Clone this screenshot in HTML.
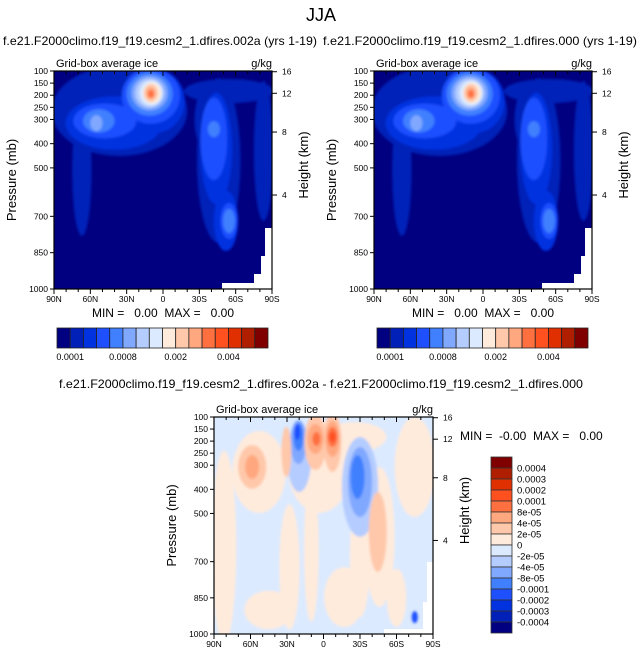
<!DOCTYPE html>
<html><head><meta charset="utf-8">
<style>
html,body{margin:0;padding:0;background:#fff;}
svg{display:block;font-family:"Liberation Sans",Arial,sans-serif;}
text{white-space:pre;}
</style></head>
<body>
<svg id="fig" width="643" height="658" viewBox="0 0 643 658" xmlns="http://www.w3.org/2000/svg">
<defs>
<filter id="bl" x="-30%" y="-30%" width="160%" height="160%"><feGaussianBlur stdDeviation="1.3"/></filter>
</defs>
<text x="321" y="21" font-size="18" text-anchor="middle">JJA</text>
</svg>
<script>
// ---- data ----
const colors = ['#000080','#0020b8','#0032e0','#1e50ff','#4080ff','#80a8ff','#b4ccff','#dceaff','#ffebdc','#ffc8aa','#ffa880','#ff7040','#ff5020','#e03000','#b01e00','#800000'];
const absLabels = ['0.0001','0.0008','0.002','0.004'];
const absLabelIdx = [1,5,9,13];
const diffLabels = ['0.0004','0.0003','0.0002','0.0001','8e-05','4e-05','2e-05','0','-2e-05','-4e-05','-8e-05','-0.0001','-0.0002','-0.0003','-0.0004'];
const pTicks = [100,150,200,250,300,400,500,700,850,1000];
const hTicks = [16,12,8,4];
const hTickP = [103,192,352,612];
const latTicks = [90,60,30,0,-30,-60,-90];
const latLabels = ['90N','60N','30N','0','30S','60S','90S'];
// blobs: [lat, pressure, latRadius, pRadius, colorLevel]
const ctlBlobs = [
 [36,265,56,186,1],[67,513,8,268,1],[-54.5,183,37,50,1],[-46,470,18,340,1],[-83,430,8,289,1],[-40,300,14,150,1],
 [40.5,315,40,110,2],[7,224,25,132,2],[-44,420,13,230,2],[-52,719,10,124,2],
 [48,306,26,72,3],[10,203,24,115,3],[-42,380,11,170,3],[-54.5,719,7,74,3],
 [53,306,13,48,4],[11,195,19,90,4],[-42,340,5,33,4],[-54.5,719,5,50,4],
 [55,315,5,33,5],[11,191,15,72,5],
 [11,191,12,60,6],
 [10,191,9.5,52,7],
 [9,191,7.5,43,8],
 [10,191,5.8,37,9],
 [10,191,4,25,10],
 [10,195,2.5,16,11]
];
const diffBlobs = [
 [81.7,639,10,400,8],[53,328,22,170,8],[3.3,307,26,190,8],[28,722,8.3,260,8],[10,650,6,300,8],
 [-25.6,183,26,62,8],[-46,598,12.4,290,8],[-75,307,16.5,207,8],[-17,847,16.5,124,8],[-30,681,8.3,249,8],
 [45,900,20,80,8],[-60,850,8,120,8],
 [20,266,9.9,145,6],[-30,390,14.9,207,6],
 [20.6,204,6.6,91,5],[-30,370,9.9,145,5],
 [20.6,183,4.1,58,4],[-28,349,5.8,91,4],
 [21.5,162,2.5,33,3],[-75,930,2.5,25,3],
 [58.6,307,11.6,91,9],[30.5,245,4.1,104,9],[6.6,204,9.1,116,9],[-7.4,204,7.4,124,9],[-44.6,577,7.4,166,9],
 [58.6,307,5.8,50,10],[6.6,191,6.6,62,10],[-7.4,191,5.8,75,10],
 [5.8,191,3.3,29,11],[-7.4,183,4.1,41,11],
 [-7.4,183,2.5,21,12]
];
// ---- drawing ----
const NS='http://www.w3.org/2000/svg';
const svg=document.getElementById('fig');
function mk(tag,attrs,parent){const e=document.createElementNS(NS,tag);for(const k in attrs)e.setAttribute(k,attrs[k]);(parent||svg).appendChild(e);return e;}
function txt(s,attrs,parent){const e=mk('text',attrs,parent);e.textContent=s;return e;}

function panel(ox,oy,w,h,blobs,bgLevel,whites,name){
  const g=mk('g',{});
  
  
  const xS=lat=>ox+(90-lat)/180*w;
  const yS=p=>oy+(p-100)/900*h;
  const cid='clip'+name;
  const cp=mk('clipPath',{id:cid},g);mk('rect',{x:ox,y:oy,width:w,height:h},cp);
  const inner=mk('g',{'clip-path':'url(#'+cid+')'},g);
  mk('rect',{x:ox,y:oy,width:w,height:h,fill:colors[bgLevel]},inner);
  const bg=mk('g',{filter:'url(#bl)'},inner);
  blobs.forEach(b=>{
    const e=mk('ellipse',{cx:xS(b[0]),cy:yS(b[1]),rx:b[2]/180*w,ry:b[3]/900*h,fill:colors[b[4]]},bg);
    
    
  });
  whites.forEach(r=>mk('rect',{x:ox+r[0],y:oy+r[1],width:r[2],height:r[3],fill:'#fff'},inner));
  mk('rect',{x:ox,y:oy,width:w,height:h,fill:'none',stroke:'#000','stroke-width':1.2},g);
  pTicks.forEach(p=>{
    const y=yS(p);
    mk('line',{x1:ox-4,y1:y,x2:ox,y2:y,stroke:'#000'},g);
    const t=txt(String(p),{x:ox-6,y:y+3,'font-size':8.5,'text-anchor':'end'},g);
    
    
  });
  hTicks.forEach((hk,i)=>{
    const y=yS(hTickP[i]);
    mk('line',{x1:ox+w,y1:y,x2:ox+w+5,y2:y,stroke:'#000'},g);
    const t=txt(String(hk),{x:ox+w+10,y:y+3,'font-size':8.5},g);
    
    
  });
  latTicks.forEach((l,i)=>{
    const x=xS(l);
    mk('line',{x1:x,y1:oy+h,x2:x,y2:oy+h+5,stroke:'#000'},g);
    mk('line',{x1:x,y1:oy,x2:x,y2:oy+5,stroke:'#000'},g);
    const t=txt(latLabels[i],{x:x,y:oy+h+13,'font-size':8.5,'text-anchor':'middle'},g);
    
    
  });
  for(let l=80;l>-90;l-=10){ if(l%30===0)continue; const x=xS(l);
    mk('line',{x1:x,y1:oy+h,x2:x,y2:oy+h+3,stroke:'#000'},g);
    mk('line',{x1:x,y1:oy,x2:x,y2:oy+3,stroke:'#000'},g);}
  let t=txt('Grid-box average ice',{x:ox+2,y:oy-4,'font-size':11},g);
  
  
  t=txt('g/kg',{x:ox+w,y:oy-4,'font-size':11,'text-anchor':'end'},g);
  
  
  t=txt('Pressure (mb)',{x:0,y:0,'font-size':13,'text-anchor':'middle',transform:`translate(${ox-38},${oy+h/2}) rotate(-90)`},g);
  
  
  t=txt('Height (km)',{x:0,y:0,'font-size':13,'text-anchor':'middle',transform:`translate(${ox+w+36},${oy+h/2-15}) rotate(-90)`},g);
  
  
}
const whitesTop=[[168,212,50,8],[211,157,8,60],[207,185,12,35],[200,203,20,16]];
panel(54,71,218,218,ctlBlobs,0,whitesTop,'panel-test');
panel(374,71,218,218,ctlBlobs,0,whitesTop,'panel-control');
panel(214,417,219,217,diffBlobs,7,[[170,212,50,6],[213,145,7,70],[209,185,10,30]],'panel-difference');

[[3,'f.e21.F2000climo.f19_f19.cesm2_1.dfires.002a (yrs 1-19)','panel-test-title'],[323,'f.e21.F2000climo.f19_f19.cesm2_1.dfires.000 (yrs 1-19)','panel-control-title']].forEach(s=>{
  const t=txt(s[1],{x:s[0],y:45,'font-size':12,textLength:314,lengthAdjust:'spacingAndGlyphs'});
  
  
});
let tt=txt('f.e21.F2000climo.f19_f19.cesm2_1.dfires.002a - f.e21.F2000climo.f19_f19.cesm2_1.dfires.000',{x:321,y:388,'font-size':12,'text-anchor':'middle',textLength:524,lengthAdjust:'spacingAndGlyphs'});


[163,483].forEach(cx=>{
  const t=txt('MIN =   0.00  MAX =   0.00',{x:cx,y:317,'font-size':12,'text-anchor':'middle'});
  
  
});
tt=txt('MIN =  -0.00  MAX =   0.00',{x:460,y:440,'font-size':12});



[57,377].forEach(x0=>{
  const g=mk('g',{});
  
  
  const bw=211/16;
  colors.forEach((c,i)=>mk('rect',{x:x0+i*bw,y:328,width:bw,height:20,fill:c,stroke:'#222','stroke-width':0.8},g));
  absLabels.forEach((s,i)=>{
    const t=txt(s,{x:x0+absLabelIdx[i]*bw,y:360,'font-size':9,'text-anchor':'middle'},g);
    
    
  });
});
{
  const g=mk('g',{});
  
  
  const bh=176/16;
  colors.slice().reverse().forEach((c,i)=>mk('rect',{x:491,y:457+i*bh,width:21,height:bh,fill:c,stroke:'#333','stroke-width':0.8},g));
  diffLabels.forEach((s,i)=>{
    const t=txt(s,{x:517,y:457+(i+1)*bh+3.5,'font-size':9.5},g);
    
    
  });
}
</script>
</body></html>
